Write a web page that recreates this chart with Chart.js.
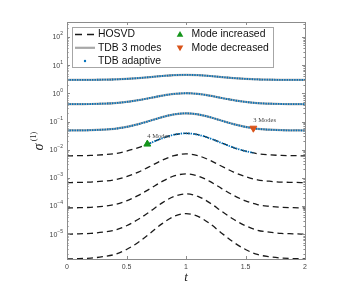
<!DOCTYPE html>
<html lang="en">
<head>
<meta charset="UTF-8">
<title>sigma(1) vs t</title>
<script src="https://cdn.jsdelivr.net/npm/chart.js@4.4.0/dist/chart.umd.min.js"></script>
<style>
  html, body { margin: 0; padding: 0; background: #fff; }
  canvas { display: block; }
</style>
</head>
<body>
<canvas id="myChart" width="359" height="292"></canvas>
<script>
// time grid
const tValues = [0, 0.1, 0.2, 0.3, 0.4, 0.5, 0.6, 0.7, 0.8, 0.9, 1.0, 1.1, 1.2, 1.3, 1.4, 1.5, 1.6, 1.7, 1.8, 1.9, 2.0];

// HOSVD singular values, one array per mode
const sigma1 = [2.99, 3.00, 3.01, 3.05, 3.11, 3.26, 3.48, 3.78, 4.12, 4.41, 4.52, 4.41, 4.12, 3.78, 3.48, 3.26, 3.11, 3.05, 3.01, 3.00, 2.99];
const sigma2 = [0.410, 0.414, 0.418, 0.430, 0.449, 0.495, 0.571, 0.684, 0.826, 0.955, 1.007, 0.955, 0.826, 0.684, 0.571, 0.495, 0.449, 0.430, 0.418, 0.414, 0.410];
const sigma3 = [0.0479, 0.0485, 0.0492, 0.0514, 0.0551, 0.0643, 0.0805, 0.1067, 0.1432, 0.179, 0.195, 0.179, 0.1432, 0.1067, 0.0805, 0.0643, 0.0551, 0.0514, 0.0492, 0.0485, 0.0479];
const sigma4 = [0.00603, 0.00614, 0.00625, 0.00661, 0.00724, 0.00887, 0.0119, 0.0172, 0.0254, 0.0340, 0.0380, 0.0340, 0.0254, 0.0172, 0.0119, 0.00887, 0.00724, 0.00661, 0.00625, 0.00614, 0.00603];
const sigma5 = [6.76e-4, 6.92e-4, 7.08e-4, 7.60e-4, 8.55e-4, 1.107e-3, 1.61e-3, 2.58e-3, 4.23e-3, 6.15e-3, 7.08e-3, 6.15e-3, 4.23e-3, 2.58e-3, 1.61e-3, 1.107e-3, 8.55e-4, 7.60e-4, 7.08e-4, 6.92e-4, 6.76e-4];
const sigma6 = [8.51e-5, 8.75e-5, 8.99e-5, 9.79e-5, 1.125e-4, 1.528e-4, 2.39e-4, 4.17e-4, 7.48e-4, 1.167e-3, 1.38e-3, 1.167e-3, 7.48e-4, 4.17e-4, 2.39e-4, 1.528e-4, 1.125e-4, 9.79e-5, 8.99e-5, 8.75e-5, 8.51e-5];
const sigma7 = [1.0e-5, 1.033e-5, 1.069e-5, 1.18e-5, 1.39e-5, 2.0e-5, 3.38e-5, 6.53e-5, 1.30e-4, 2.21e-4, 2.69e-4, 2.21e-4, 1.30e-4, 6.53e-5, 3.38e-5, 2.0e-5, 1.39e-5, 1.18e-5, 1.069e-5, 1.033e-5, 1.0e-5];
const sigma8 = [1.318e-6, 1.368e-6, 1.419e-6, 1.589e-6, 1.91e-6, 2.87e-6, 5.20e-6, 1.091e-5, 2.38e-5, 4.30e-5, 5.37e-5, 4.30e-5, 2.38e-5, 1.091e-5, 5.20e-6, 2.87e-6, 1.91e-6, 1.589e-6, 1.419e-6, 1.368e-6, 1.318e-6];

// adaptive TDB: 4th mode only while rank is 4
const adapt4T = [0.675, 0.7, 0.8, 0.9, 1.0, 1.1, 1.2, 1.3, 1.4, 1.5, 1.566];
const adapt4V = [0.0158, 0.0172, 0.0254, 0.0340, 0.0380, 0.0340, 0.0254, 0.0172, 0.0119, 0.00887, 0.00773];

// rank change events
const modeUpT = [0.675];
const modeUpV = [0.0158];
const modeDownT = [1.566];
const modeDownV = [0.0578];

const xTicks = [0, 0.5, 1, 1.5, 2];
const yTickExps = [-5, -4, -3, -2, -1, 0, 1, 2];
const yMin = 1.32e-6;
const yMax = 340;

const hosvdSets = [sigma1, sigma2, sigma3, sigma4, sigma5, sigma6, sigma7, sigma8];
const tdbSets = [sigma1, sigma2, sigma3];

function pts(xs, ys) {
  return xs.map((x, i) => ({ x: x, y: ys[i] }));
}

const BLUE = '#0072BD';
const GREEN = '#14941a';
const ORANGE = '#D95319';
const SANS = '"Liberation Sans", Arial, sans-serif';
const SERIF = '"Liberation Serif", "DejaVu Serif", serif';

const datasets = [];
hosvdSets.forEach((s) => {
  datasets.push({
    label: 'HOSVD', data: pts(tValues, s),
    borderColor: '#1a1a1a', borderWidth: 1.3, borderDash: [6, 4],
    pointRadius: 0, cubicInterpolationMode: 'monotone', order: 3, clip: false
  });
});
tdbSets.forEach((s) => {
  datasets.push({
    label: 'TDB 3 modes', data: pts(tValues, s),
    borderColor: '#a8a8a8', borderWidth: 2.2,
    pointRadius: 0, cubicInterpolationMode: 'monotone', order: 2
  });
});
tdbSets.forEach((s) => {
  datasets.push({
    label: 'TDB adaptive', data: pts(tValues, s),
    borderColor: BLUE, borderWidth: 1.8, borderDash: [1.4, 1.1],
    pointRadius: 0, cubicInterpolationMode: 'monotone', order: 1
  });
});
datasets.push({
  label: 'TDB adaptive', data: pts(adapt4T, adapt4V),
  borderColor: BLUE, borderWidth: 1.8, borderDash: [1.4, 1.1],
  pointRadius: 0, cubicInterpolationMode: 'monotone', order: 1
});
datasets.push({
  label: 'Mode increased', data: pts(modeUpT, modeUpV), showLine: false,
  pointStyle: 'triangle', pointRadius: 4, pointBackgroundColor: GREEN, pointBorderColor: GREEN,
  order: 0, annot: '4 Modes'
});
datasets.push({
  label: 'Mode decreased', data: pts(modeDownT, modeDownV), showLine: false,
  pointStyle: 'triangle', pointRotation: 180, pointRadius: 4,
  pointBackgroundColor: ORANGE, pointBorderColor: ORANGE,
  order: 0, annot: '3 Modes'
});

function drawTri(ctx, x, y, r, down, color) {
  ctx.save();
  ctx.translate(x, y);
  if (down) ctx.rotate(Math.PI);
  ctx.beginPath();
  ctx.moveTo(0, -r);
  ctx.lineTo(r * 0.95, r * 0.65);
  ctx.lineTo(-r * 0.95, r * 0.65);
  ctx.closePath();
  ctx.fillStyle = color;
  ctx.fill();
  ctx.restore();
}

// box, inner ticks, y labels with exponents, legend, titles
const decor = {
  id: 'decor',
  afterDraw(chart) {
    const ctx = chart.ctx;
    const a = chart.chartArea;
    const xs = chart.scales.x, ys = chart.scales.y;
    ctx.save();
    ctx.strokeStyle = '#8c8c8c';
    ctx.lineWidth = 1;
    ctx.strokeRect(Math.round(a.left) + 0.5, Math.round(a.top) + 0.5, Math.round(a.right - a.left), Math.round(a.bottom - a.top));

    ctx.beginPath();
    xTicks.forEach(v => {
      const px = Math.round(xs.getPixelForValue(v)) + 0.5;
      ctx.moveTo(px, a.bottom); ctx.lineTo(px, a.bottom - 3);
      ctx.moveTo(px, a.top); ctx.lineTo(px, a.top + 3);
    });
    ys.ticks.forEach(t => {
      const v = t.value;
      const e = Math.floor(Math.log10(v) + 1e-9);
      const m = v / Math.pow(10, e);
      if (Math.abs(m - Math.round(m)) > 1e-6) return;
      const len = Math.round(m) === 1 ? 3 : 1.6;
      const py = Math.round(ys.getPixelForValue(v)) + 0.5;
      ctx.moveTo(a.left, py); ctx.lineTo(a.left + len, py);
      ctx.moveTo(a.right, py); ctx.lineTo(a.right - len, py);
    });
    ctx.stroke();

    // y tick labels: 10 with raised exponent
    ctx.fillStyle = '#444';
    ctx.textBaseline = 'middle';
    yTickExps.forEach(k => {
      const py = ys.getPixelForValue(Math.pow(10, k));
      ctx.font = '5px ' + SANS;
      const es = k < 0 ? '\u2212' + (-k) : String(k);
      const ew = ctx.measureText(es).width;
      const right = a.left - 4;
      ctx.textAlign = 'left';
      ctx.fillText(es, right - ew, py - 3);
      ctx.font = '7px ' + SANS;
      ctx.textAlign = 'right';
      ctx.fillText('10', right - ew, py + 0.5);
    });

    // annotations next to rank-change markers
    ctx.font = '6.5px ' + SERIF;
    ctx.fillStyle = '#444';
    ctx.textAlign = 'left';
    ctx.textBaseline = 'middle';
    chart.data.datasets.forEach((ds, i) => {
      if (!ds.annot) return;
      const p = chart.getDatasetMeta(i).data[0];
      ctx.fillText(ds.annot, p.x, p.y - 7.5);
    });

    // legend
    const L = { x: 72.5, y: 27.5, w: 201, h: 40 };
    ctx.fillStyle = '#fff';
    ctx.fillRect(L.x, L.y, L.w, L.h);
    ctx.strokeStyle = '#a6a6a6';
    ctx.lineWidth = 1;
    ctx.strokeRect(L.x, L.y, L.w, L.h);
    const rows = [34.5, 47.8, 61];
    ctx.font = '10.4px ' + SANS;
    ctx.textAlign = 'left';
    ctx.textBaseline = 'middle';
    ctx.strokeStyle = '#1a1a1a'; ctx.lineWidth = 1.3; ctx.setLineDash([7, 5]);
    ctx.beginPath(); ctx.moveTo(75, rows[0]); ctx.lineTo(95, rows[0]); ctx.stroke();
    ctx.setLineDash([]);
    ctx.strokeStyle = '#a8a8a8'; ctx.lineWidth = 2.2;
    ctx.beginPath(); ctx.moveTo(75, rows[1]); ctx.lineTo(95, rows[1]); ctx.stroke();
    ctx.fillStyle = BLUE;
    ctx.beginPath(); ctx.arc(85, rows[2], 1.2, 0, Math.PI * 2); ctx.fill();
    drawTri(ctx, 180, rows[0], 3.5, false, GREEN);
    drawTri(ctx, 180, rows[1], 3.5, true, ORANGE);
    ctx.fillStyle = '#111';
    ctx.fillText('HOSVD', 98, rows[0]);
    ctx.fillText('TDB 3 modes', 98, rows[1]);
    ctx.fillText('TDB adaptive', 98, rows[2]);
    ctx.fillText('Mode increased', 191.5, rows[0]);
    ctx.fillText('Mode decreased', 191.5, rows[1]);

    // axis titles
    ctx.fillStyle = '#222';
    ctx.textAlign = 'center';
    ctx.font = 'italic 13px ' + SERIF;
    ctx.fillText('t', (a.left + a.right) / 2, 278);
    ctx.save();
    ctx.translate(39, 147);
    ctx.rotate(-Math.PI / 2);
    ctx.font = 'italic 14px ' + SERIF;
    ctx.fillText('\u03C3', 0, 0);
    ctx.font = '8px ' + SERIF;
    ctx.fillText('(1)', 10.5, -5.5);
    ctx.restore();
    ctx.restore();
  }
};

const config = {
  type: 'line',
  data: { datasets: datasets },
  options: {
    responsive: false,
    animation: false,
    devicePixelRatio: 1,
    layout: { padding: { left: 0, right: 54, top: 22, bottom: 0 } },
    plugins: { legend: { display: false }, tooltip: { enabled: false } },
    scales: {
      x: {
        type: 'linear', min: 0, max: 2,
        grid: { display: false, drawTicks: false, tickLength: 0 }, border: { display: false },
        ticks: {
          stepSize: 0.5, padding: 4, color: '#444',
          font: { family: SANS, size: 7 },
          callback: v => String(v)
        },
        afterFit: s => { s.height = 33; }
      },
      y: {
        type: 'logarithmic', min: yMin, max: yMax,
        grid: { display: false, drawTicks: false, tickLength: 0 }, border: { display: false },
        ticks: { display: false, autoSkip: false },
        afterFit: s => { s.width = 67; }
      }
    }
  },
  plugins: [decor]
};

const myChart = new Chart(document.getElementById('myChart'), config);
</script>
</body>
</html>
